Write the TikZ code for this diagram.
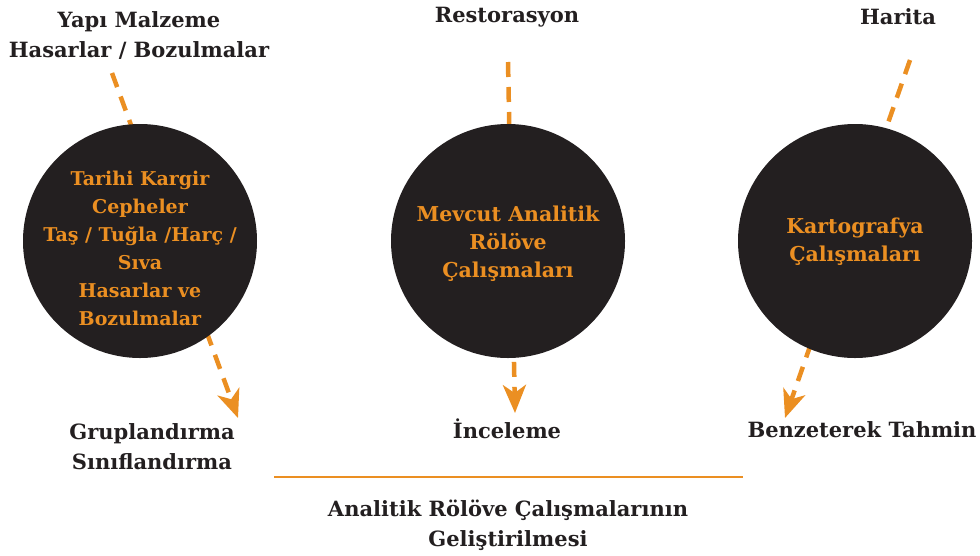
\documentclass[tikz,border=0pt]{standalone}
\usepackage{fontspec}
\setmainfont{DejaVu Serif}
\usetikzlibrary{arrows.meta}
\definecolor{org}{HTML}{EB8F22}
\definecolor{blk}{HTML}{231F20}
\begin{document}
\begin{tikzpicture}[x=1pt,y=-1pt,
 lab/.style={text=blk, font=\bfseries\fontsize{21}{30}\selectfont, align=center, inner sep=0pt},
 disc/.style={circle, fill=blk, minimum size=234pt, inner sep=0pt},
 disctext/.style={text=org, align=center, inner sep=0pt, font=\bfseries\fontsize{20.5}{28}\selectfont},
 flow/.style={draw=org, line width=4.5pt, dash pattern=on 15pt off 10pt, -{Stealth[length=28pt,width=23pt,inset=8pt]}},
 rule/.style={draw=org, line width=2.5pt}]
\useasboundingbox (0,0) rectangle (980,555);
% connector end points
\coordinate (s1) at (112,73);
\coordinate (e1) at (238,418);
\coordinate (s2) at (508,62);
\coordinate (e2) at (515,413);
\coordinate (s3) at (910,60);
\coordinate (e3) at (785,418);
\draw[flow] (s1) -- (e1);
\draw[flow] (s2) -- (e2);
\draw[flow] (s3) -- (e3);
% circles
\node[disc] (c1) at (140,241) {};
\node[disc] (c2) at (508,241) {};
\node[disc] (c3) at (855,241) {};
\node[disctext, font=\bfseries\fontsize{19}{28}\selectfont] (c1t) at ([yshift=-7pt]c1.center) {Tarihi Kargir\\Cepheler\\Taş / Tuğla /Harç /\\Sıva\\Hasarlar ve\\Bozulmalar};
\node[disctext] (c2t) at ([yshift=-3pt]c2.center) {Mevcut Analitik\\Rölöve\\Çalışmaları};
\node[disctext] (c3t) at ([yshift=-1pt]c3.center) {Kartografya\\Çalışmaları};
% labels
\node[lab] (t1) at (139,35) {Yapı Malzeme\\Hasarlar / Bozulmalar};
\node[lab] (t2) at (507,17) {Restorasyon};
\node[lab] (t3) at (898,17) {Harita};
\node[lab] (b1) at (152,447) {Gruplandırma\\Sınıflandırma};
\node[lab] (b2) at (507,429) {İnceleme};
\node[lab] (b3) at (862,430) {Benzeterek Tahmin};
\coordinate (r1) at (274,477);
\coordinate (r2) at (743,477);
\draw[rule] (r1) -- (r2);
\node[lab] (g) at (508,525) {Analitik Rölöve Çalışmalarının\\Geliştirilmesi};
\end{tikzpicture}
\end{document}
